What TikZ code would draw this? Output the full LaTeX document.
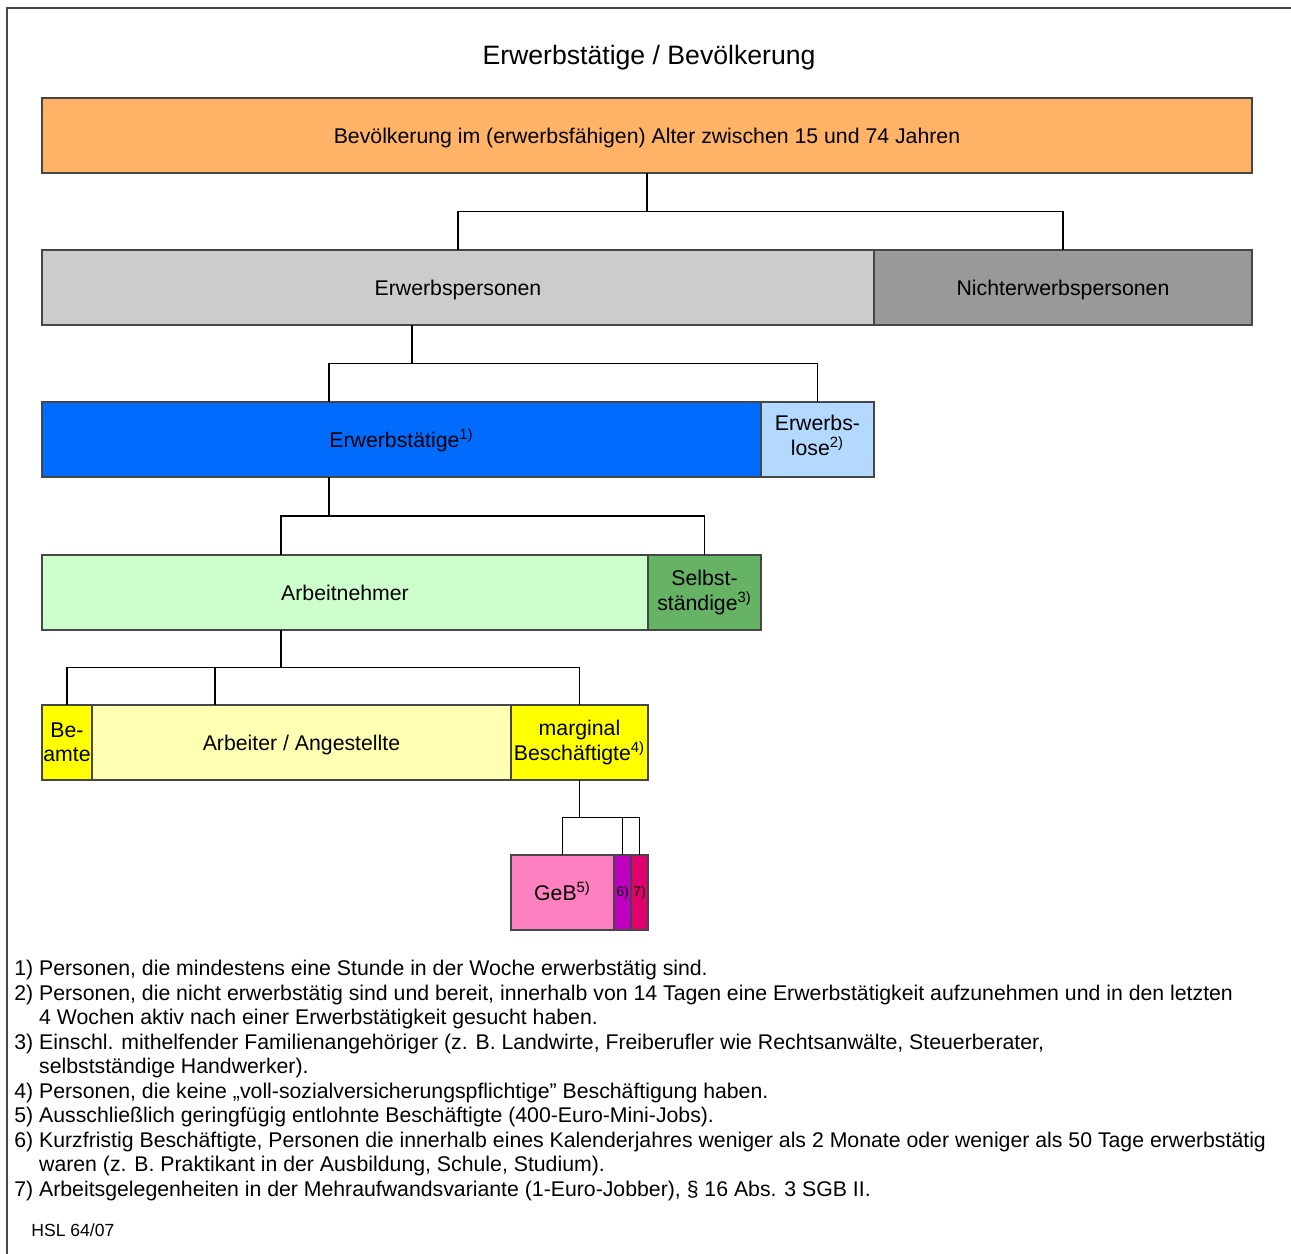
\documentclass[tikz,border=0pt]{standalone}
\usepackage{fontspec}
\setmainfont{Liberation Sans}
\usepackage{tikz}
\usetikzlibrary{positioning,calc}
\usepackage{xcolor}
\definecolor{hsorange}{RGB}{255,179,102}
\definecolor{hslightgray}{RGB}{204,204,204}
\definecolor{hsgray}{RGB}{153,153,153}
\definecolor{hsblue}{RGB}{0,108,255}
\definecolor{hslightblue}{RGB}{179,217,255}
\definecolor{hslightgreen}{RGB}{204,255,204}
\definecolor{hsgreen}{RGB}{102,179,102}
\definecolor{hspaleyellow}{RGB}{255,255,179}
\definecolor{hsyellow}{RGB}{255,255,0}
\definecolor{hspink}{RGB}{255,128,192}
\definecolor{hspurple}{RGB}{192,0,192}
\definecolor{hscrimson}{RGB}{224,0,110}
\definecolor{hsframe}{RGB}{70,70,70}
\tikzstyle{box} = [rectangle, draw=hsframe, line width=0.7pt, minimum height=1.5cm, inner sep=0pt, outer sep=0pt, text centered, align=center, anchor=north west, font=\fontsize{12.1}{13.95}\selectfont]
\tikzstyle{oneline} = [text height=8.8pt, text depth=0pt]
\tikzstyle{link} = [line width=0.8pt, black]

\begin{document}
\begin{tikzpicture}
\useasboundingbox (0,0) rectangle (25.82,-25.08);
% Frame and title
\draw[hsframe, line width=1pt] (0.14,-25.08) -- (0.14,-0.16) -- (25.82,-0.16);
\node[font=\fontsize{15.15}{18}\selectfont] (title) at (12.98,-1.16) {Erwerbstätige / Bevölkerung};

% Population
\node[box, oneline, fill=hsorange, minimum width=24.2cm] (bev) at (0.84,-1.96) {Bevölkerung im (erwerbsfähigen) Alter zwischen 15 und 74 Jahren};

% Labour force and non-labour force
\node[box, oneline, fill=hslightgray, minimum width=16.64cm] (erwp) at ([yshift=-1.54cm]bev.south west) {Erwerbspersonen};
\node[box, oneline, fill=hsgray, minimum width=7.56cm, right=0pt of erwp] (nerwp) {Nichterwerbspersonen};

% Employed and unemployed
\node[box, oneline, fill=hsblue, minimum width=14.38cm] (erwt) at ([yshift=-1.54cm]erwp.south west) {Erwerbstätige\textsuperscript{1)}};
\node[box, fill=hslightblue, minimum width=2.26cm, right=0pt of erwt] (erwl) {Erwerbs-\\lose\textsuperscript{2)}\\[-9.4pt]};

% Employees and self-employed
\node[box, oneline, fill=hslightgreen, minimum width=12.12cm] (arbn) at ([yshift=-1.56cm]erwt.south west) {Arbeitnehmer};
\node[box, fill=hsgreen, minimum width=2.26cm, right=0pt of arbn] (selb) {Selbst-\\ständige\textsuperscript{3)}};

% Kinds of employees
\node[box, fill=hsyellow, minimum width=1cm] (beamte) at ([yshift=-1.5cm]arbn.south west) {Be-\\amte};
\node[box, oneline, fill=hspaleyellow, minimum width=8.38cm, right=0pt of beamte] (arbang) {Arbeiter / Angestellte};
\node[box, fill=hsyellow, minimum width=2.74cm, right=0pt of arbang] (marg) {marginal\\Beschäftigte\textsuperscript{4)}};

% Marginal employment
\node[box, oneline, fill=hspink, minimum width=2.06cm] (geb) at ([yshift=-1.5cm]marg.south west) {GeB\textsuperscript{5)}};
\node[box, fill=hspurple, minimum width=0.34cm, right=0pt of geb, font=\fontsize{8}{9}\selectfont] (kurz) {6)};
\node[box, fill=hscrimson, minimum width=0.34cm, right=0pt of kurz, font=\fontsize{8}{9}\selectfont] (mehr) {7)};

% Connections
\draw[link] (bev.south) -- ++(0,-0.77) coordinate (f1);
\draw[link] (erwp.north) |- (f1) -| (nerwp.north);

\draw[link] ([xshift=-0.92cm]erwp.south) -- ++(0,-0.77) coordinate (f2);
\draw[link] ([xshift=-1.45cm]erwt.north) |- (f2) -| (erwl.north);

\draw[link] ([xshift=-1.45cm]erwt.south) -- ++(0,-0.78) coordinate (f3);
\draw[link] ([xshift=-1.28cm]arbn.north) |- (f3) -| (selb.north);

\draw[link] ([xshift=-1.28cm]arbn.south) -- ++(0,-0.75) coordinate (f4);
\draw[link] (beamte.north) |- (f4) -| (marg.north);
\draw[link] ([xshift=-1.73cm]arbang.north) -- ++(0,0.75);

\draw[link] (marg.south) -- ++(0,-0.75) coordinate (f5);
\draw[link] (geb.north) |- (f5) -| (mehr.north);
\draw[link] (kurz.north) -- (kurz.north |- f5);

% Footnotes
\node[anchor=north west, inner sep=0pt, align=left, font=\fontsize{12.1}{13.95}\selectfont] (notes) at (0.28,-19.2) {%
1) Personen, die mindestens eine Stunde in der Woche erwerbstätig sind.\\
2) Personen, die nicht erwerbstätig sind und bereit, innerhalb von 14 Tagen eine Erwerbstätigkeit aufzunehmen und in den letzten\\
\hphantom{2) }4 Wochen aktiv nach einer Erwerbstätigkeit gesucht haben.\\
3) Einschl. mithelfender Familienangehöriger (z. B. Landwirte, Freiberufler wie Rechtsanwälte, Steuerberater,\\
\hphantom{3) }selbstständige Handwerker).\\
4) Personen, die keine „voll-sozialversicherungspflichtige” Beschäftigung haben.\\
5) Ausschließlich geringfügig entlohnte Beschäftigte (400-Euro-Mini-Jobs).\\
6) Kurzfristig Beschäftigte, Personen die innerhalb eines Kalenderjahres weniger als 2 Monate oder weniger als 50 Tage erwerbstätig\\
\hphantom{6) }waren (z. B. Praktikant in der Ausbildung, Schule, Studium).\\
7) Arbeitsgelegenheiten in der Mehraufwandsvariante (1-Euro-Jobber), § 16 Abs. 3 SGB II.};
\node[anchor=west, inner sep=0pt, font=\fontsize{10}{12}\selectfont] (hsl) at (0.62,-24.6) {HSL 64/07};
\end{tikzpicture}
\end{document}
